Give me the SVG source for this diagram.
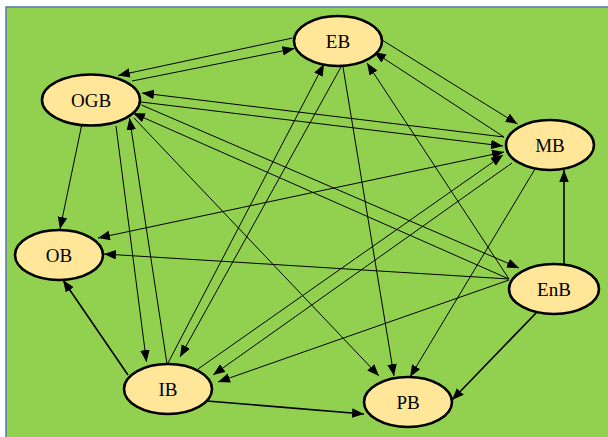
<svg xmlns="http://www.w3.org/2000/svg" width="608" height="437" viewBox="0 0 608 437">
<defs>
<marker id="ah" markerUnits="userSpaceOnUse" markerWidth="13" markerHeight="10" refX="12" refY="4.75" orient="auto-start-reverse">
<path d="M0,0 L12,4.75 L0,9.5 Z" fill="#000"/>
</marker>
<style>
.e{stroke:#000;stroke-width:1;fill:none;marker-end:url(#ah)}
.b{marker-start:url(#ah)}
.t{stroke-width:1.6}
.n ellipse{fill:#FFE699;stroke:#000;stroke-width:2.6}
.n text{font-family:"Liberation Serif","Times New Roman",serif;font-size:19px;fill:#000;text-anchor:middle}
</style>
</defs>
<rect x="6" y="7" width="610" height="440" fill="#92D050" stroke="#5B7FB5" stroke-width="1.6"/>
<g id="connectors">
<path class="e" d="M292.6,38 L118,75.5"/>
<path class="e" d="M132,81 L294.5,48.5"/>
<path class="e" d="M382,40 L517.5,124"/>
<path class="e" d="M504,137 L374,52"/>
<path class="e" d="M504,137 L142,93"/>
<path class="e" d="M141,102 L503,146"/>
<path class="e" d="M81.5,126 L60,229"/>
<path class="e" d="M116,126 L146.5,362"/>
<path class="e" d="M167,364 L129.5,118"/>
<path class="e" d="M134,118 L379,376"/>
<path class="e" d="M141.5,105 L519,268"/>
<path class="e" d="M509,279 L133,113"/>
<path class="e" d="M509,279 L104,254"/>
<path class="e b" d="M98,238 L504,152"/>
<path class="e" d="M168,363 L324,64"/>
<path class="e" d="M341,67 L180,357"/>
<path class="e" d="M343,67 L394,376"/>
<path class="e" d="M509,279 L367,63"/>
<path class="e" d="M198,369 L503,155"/>
<path class="e" d="M512,163 L213,375"/>
<path class="e" d="M509,280 L218,382"/>
<path class="e" d="M535,169 L410,377"/>
<path class="e t" d="M564,264 L564,170"/>
<path class="e t" d="M537,312 L452,400"/>
<path class="e t" d="M207,401 L364,414"/>
<path class="e t" d="M128,375 L63,280"/>
</g>
<g id="EB" class="n"><ellipse cx="338" cy="41" rx="44" ry="25"/><text x="338" y="47.5">EB</text></g>
<g id="OGB" class="n"><ellipse cx="91" cy="100" rx="49" ry="25.5"/><text x="91" y="106.5">OGB</text></g>
<g id="MB" class="n"><ellipse cx="550" cy="145" rx="44" ry="25"/><text x="550" y="151.5">MB</text></g>
<g id="OB" class="n"><ellipse cx="59" cy="255" rx="44" ry="25"/><text x="59" y="261.5">OB</text></g>
<g id="EnB" class="n"><ellipse cx="554" cy="289" rx="45" ry="25"/><text x="554" y="295.5">EnB</text></g>
<g id="IB" class="n"><ellipse cx="168" cy="389" rx="44" ry="25"/><text x="168" y="395.5">IB</text></g>
<g id="PB" class="n"><ellipse cx="408" cy="402" rx="44" ry="25"/><text x="408" y="408.5">PB</text></g>
</svg>
